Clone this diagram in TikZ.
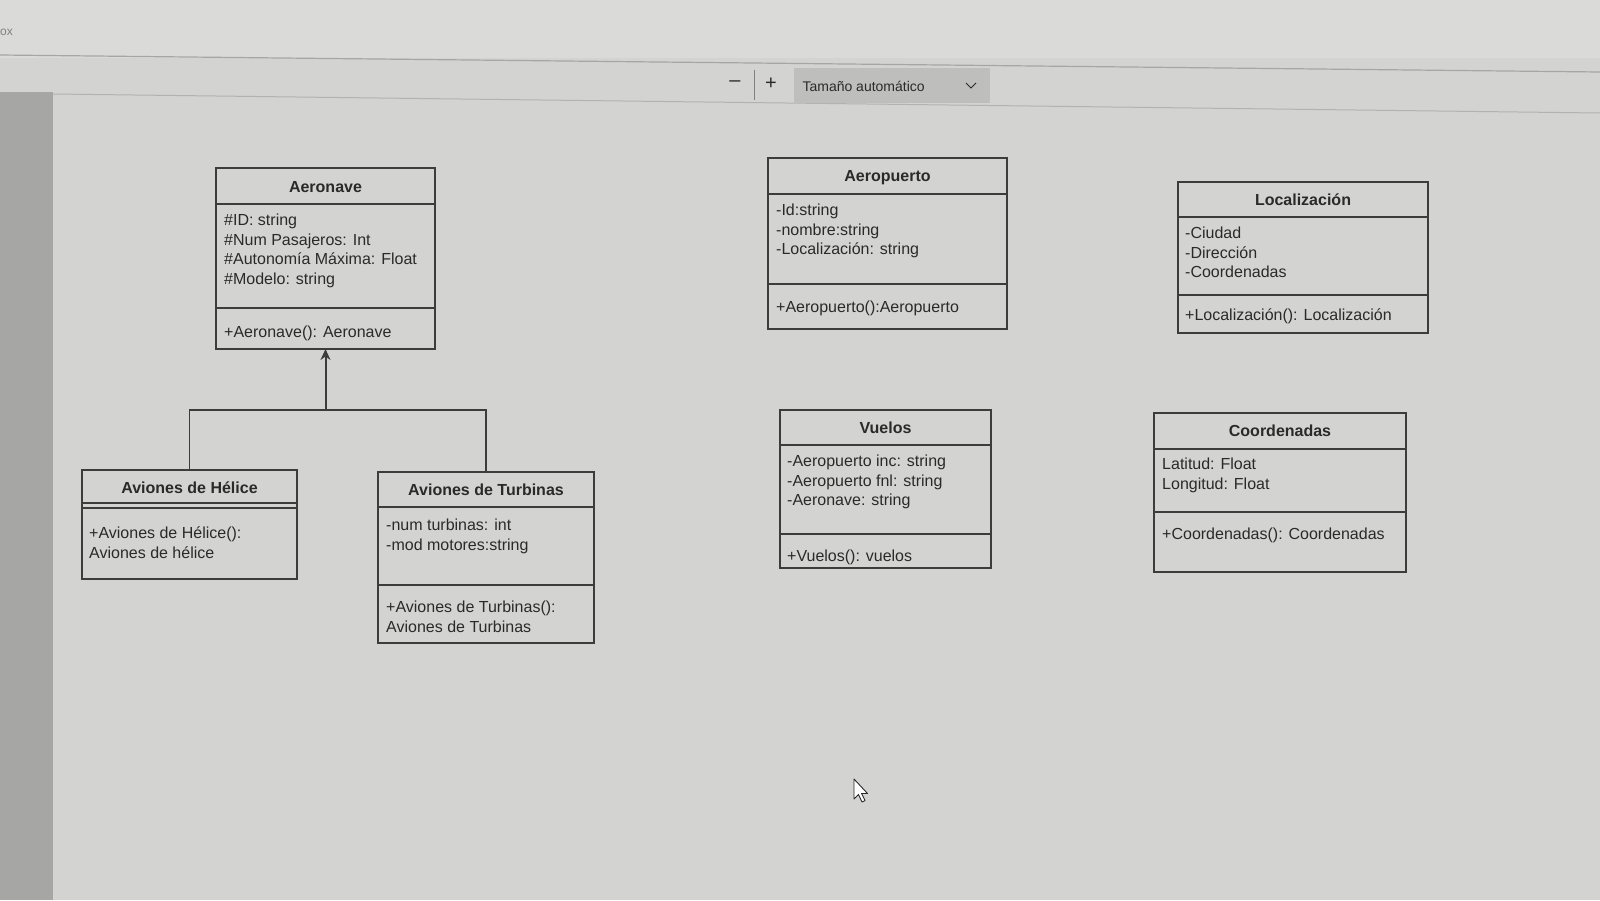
\documentclass[tikz,border=0pt]{standalone}
\usepackage{fontspec}
\setmainfont{Liberation Sans}
\usetikzlibrary{arrows.meta, positioning}
\definecolor{screenbg}{HTML}{D3D3D1}
\definecolor{topbar}{HTML}{DADAD8}
\definecolor{sidebar}{HTML}{A6A6A5}
\definecolor{dropbox}{HTML}{BEBEBC}
\definecolor{umlline}{HTML}{3C3C3C}
\definecolor{umltext}{HTML}{2A2A2A}
\tikzstyle{classbox} = [draw=umlline,line width=1.4pt,anchor=north west,inner sep=0pt,outer sep=0pt]
\tikzstyle{classtitle} = [font=\fontsize{16}{19.5}\selectfont\bfseries,text=umltext,inner sep=0pt]
\tikzstyle{members} = [font=\fontsize{16}{19.5}\selectfont,text=umltext,align=left,anchor=north west,inner sep=0pt]
\tikzstyle{umlsep} = [draw=umlline,line width=1.4pt]

\begin{document}
\begin{tikzpicture}[x=1pt,y=-1pt]
			\useasboundingbox (0,0) rectangle (1600,900);
			
			%% screen
			\fill[screenbg] (0,0) rectangle (1600,900);
			\fill[topbar] (0,0) rectangle (1600,58);
			\fill[sidebar] (0,92) rectangle (53,900);
			\draw[gray!70, line width=1.2pt] (0,55) -- (1600,72);
			\draw[gray!60, line width=1pt] (53,94) -- (1600,113);
			\node[font=\fontsize{12}{14}\selectfont, text=gray, anchor=west, inner sep=0pt] (ox) at (0,32) {ox};
			\fill[dropbox] (794,68) rectangle (990,103);
			\node[font=\fontsize{20}{22}\selectfont, text=umltext] (minus) at (735,84) {--};
			\draw[gray, line width=0.8pt] (754,70) -- (754,100);
			\node[font=\fontsize{20}{22}\selectfont, text=umltext] (plus) at (771,84) {+};
			\node[font=\fontsize{14}{16}\selectfont, text=umltext, anchor=west] (zoom) at (799,86) {Tamaño automático};
			\draw[umltext, line width=1pt] (966,83) -- (971,88) -- (976,83);
			
			%% classes
			\node[classbox, minimum width=219pt, minimum height=181pt] (aeronave) at (216,168) {};
			\node[classtitle] (aeronavetitle) at (325.5,187) {Aeronave};
			\draw[umlsep] (aeronave.west |- 0,204) -- (aeronave.east |- 0,204);
			\draw[umlsep] (aeronave.west |- 0,308) -- (aeronave.east |- 0,308);
			\node[members] (aeronaveattr) at (224,214) {\#ID: string\\\#Num Pasajeros: Int\\\#Autonomía Máxima: Float\\\#Modelo: string};
			\node[members] (aeronaveop) at (224,326) {+Aeronave(): Aeronave};
			
			\node[classbox, minimum width=215pt, minimum height=109pt] (helice) at (82,470) {};
			\node[classtitle] (helicetitle) at (189.5,488) {Aviones de Hélice};
			\draw[umlsep] (helice.west |- 0,503) -- (helice.east |- 0,503);
			\draw[umlsep] (helice.west |- 0,508) -- (helice.east |- 0,508);
			\node[members] (heliceop) at (89,527) {+Aviones de Hélice():\\Aviones de hélice};
			
			\node[classbox, minimum width=216pt, minimum height=171pt] (turbinas) at (378,472) {};
			\node[classtitle] (turbinastitle) at (486,490) {Aviones de Turbinas};
			\draw[umlsep] (turbinas.west |- 0,507) -- (turbinas.east |- 0,507);
			\draw[umlsep] (turbinas.west |- 0,585) -- (turbinas.east |- 0,585);
			\node[members] (turbinasattr) at (386,519) {-num turbinas: int\\-mod motores:string};
			\node[members] (turbinasop) at (386,601) {+Aviones de Turbinas():\\Aviones de Turbinas};
			
			\node[classbox, minimum width=239pt, minimum height=171pt] (aeropuerto) at (768,158) {};
			\node[classtitle] (aeropuertotitle) at (887.5,178) {Aeropuerto};
			\draw[umlsep] (aeropuerto.west |- 0,194) -- (aeropuerto.east |- 0,194);
			\draw[umlsep] (aeropuerto.west |- 0,284) -- (aeropuerto.east |- 0,284);
			\node[members] (aeropuertoattr) at (776,204) {-Id:string\\-nombre:string\\-Localización: string};
			\node[members] (aeropuertoop) at (776,301) {+Aeropuerto():Aeropuerto};
			
			\node[classbox, minimum width=250pt, minimum height=151pt] (localizacion) at (1178,182) {};
			\node[classtitle] (localizaciontitle) at (1303,200) {Localización};
			\draw[umlsep] (localizacion.west |- 0,217) -- (localizacion.east |- 0,217);
			\draw[umlsep] (localizacion.west |- 0,295) -- (localizacion.east |- 0,295);
			\node[members] (localizacionattr) at (1185,227) {-Ciudad\\-Dirección\\-Coordenadas};
			\node[members] (localizacionop) at (1185,309) {+Localización(): Localización};
			
			\node[classbox, minimum width=211pt, minimum height=158pt] (vuelos) at (780,410) {};
			\node[classtitle] (vuelostitle) at (885.5,428) {Vuelos};
			\draw[umlsep] (vuelos.west |- 0,445) -- (vuelos.east |- 0,445);
			\draw[umlsep] (vuelos.west |- 0,534) -- (vuelos.east |- 0,534);
			\node[members] (vuelosattr) at (787,455) {-Aeropuerto inc: string\\-Aeropuerto fnl: string\\-Aeronave: string};
			\node[members] (vuelosop) at (787,550) {+Vuelos(): vuelos};
			
			\node[classbox, minimum width=252pt, minimum height=159pt] (coordenadas) at (1154,413) {};
			\node[classtitle] (coordenadastitle) at (1280,431) {Coordenadas};
			\draw[umlsep] (coordenadas.west |- 0,449) -- (coordenadas.east |- 0,449);
			\draw[umlsep] (coordenadas.west |- 0,512) -- (coordenadas.east |- 0,512);
			\node[members] (coordenadasattr) at (1162,458) {Latitud: Float\\Longitud: Float};
			\node[members] (coordenadasop) at (1162,528) {+Coordenadas(): Coordenadas};
			
			%% inheritance
			\coordinate (gen) at (325.5,410);
			\draw[umlsep, line width=1.6pt] (helice.north) |- (gen) -| (turbinas.north);
			\draw[umlsep, line width=2pt, -{Stealth[length=11pt,width=10pt]}] (gen) -- (aeronave.south);
			
			%% cursor
			\draw[umltext, fill=white, line width=0.9pt, line join=round] (854,779) -- (854,799) -- (858.5,794.5) -- (862,802) -- (865,800.5) -- (861.5,793.5) -- (867.5,793.5) -- cycle;
		\end{tikzpicture}
\end{document}
